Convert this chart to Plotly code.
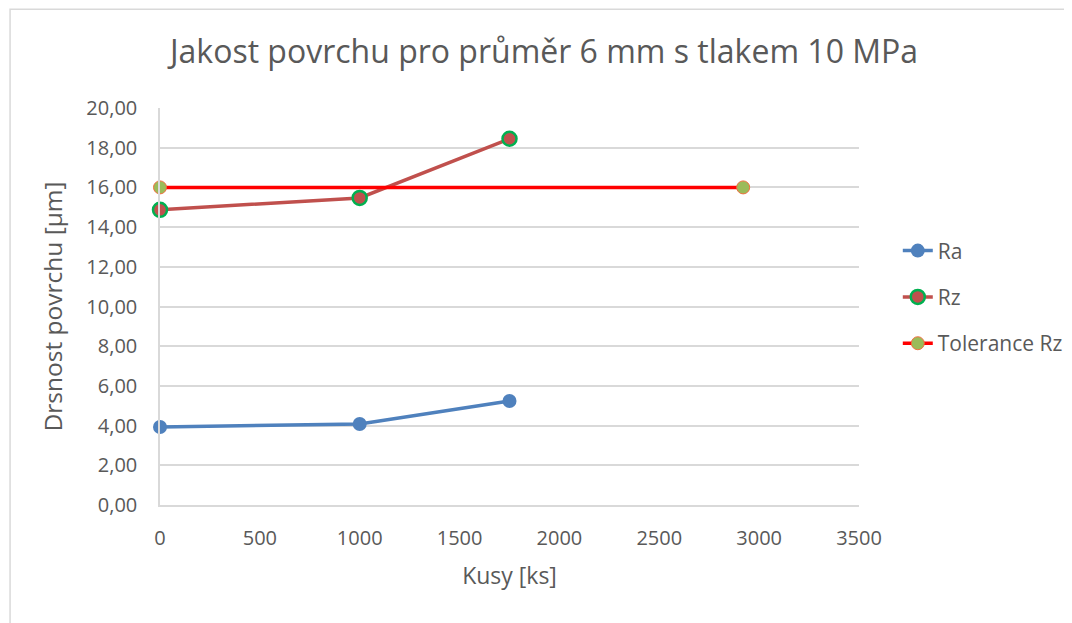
import plotly.graph_objects as go

x_ra = [0, 1000, 1750]
ra = [3.93, 4.08, 5.24]
x_rz = [0, 1000, 1750]
rz = [14.87, 15.47, 18.45]
x_tol = [0, 2920]
tol = [16.0, 16.0]
y_ticks = [0, 2, 4, 6, 8, 10, 12, 14, 16, 18, 20]
y_labels = [("%.2f" % v).replace(".", ",") for v in y_ticks]
x_ticks = [0, 500, 1000, 1500, 2000, 2500, 3000, 3500]

fig = go.Figure()
fig.add_trace(go.Scatter(x=x_ra, y=ra, name="Ra", mode="lines+markers", legendgroup="a",
                         cliponaxis=False,
                         line=dict(color="#4f81bd", width=3.5),
                         marker=dict(size=14, color="#4f81bd", line=dict(width=0))))
fig.add_trace(go.Scatter(x=x_rz, y=rz, name="Rz", mode="lines+markers", legendgroup="b",
                         cliponaxis=False,
                         line=dict(color="#c0504d", width=3.5),
                         marker=dict(size=14, color="#c0504d", line=dict(width=2.5, color="#00b050"))))
fig.add_trace(go.Scatter(x=x_tol, y=tol, name="Tolerance Rz", mode="lines+markers", legendgroup="c",
                         cliponaxis=False,
                         line=dict(color="#ff0000", width=3.5),
                         marker=dict(size=13, color="#9bbb59", line=dict(width=1, color="#f07040"))))

font = "Open Sans, Liberation Sans, sans-serif"
fig.update_layout(
    width=1072, height=623,
    paper_bgcolor="white", plot_bgcolor="white",
    margin=dict(l=152, r=218, t=100, b=126),
    title=dict(text="Jakost povrchu pro průměr 6 mm s tlakem 10 MPa",
               x=0.5, xanchor="center", y=0.93, yanchor="middle",
               font=dict(family=font, size=32, color="#595959")),
    font=dict(family=font, color="#595959"),
    xaxis=dict(range=[0, 3500], tickvals=x_ticks, showgrid=False, zeroline=False,
               showline=True, linecolor="#d9d9d9", linewidth=1.5,
               tickfont=dict(size=20, color="#595959"), ticklabelstandoff=14,
               title=dict(text="Kusy [ks]", font=dict(size=23, color="#595959"), standoff=18)),
    yaxis=dict(range=[0, 20], tickvals=y_ticks, ticktext=y_labels,
               showgrid=True, gridcolor="#d9d9d9", gridwidth=1.5, zeroline=False,
               showline=True, linecolor="#d9d9d9", linewidth=1.5,
               tickfont=dict(size=20, color="#595959"), ticklabelstandoff=17,
               title=dict(text="Drsnost povrchu [µm]", font=dict(size=24.5, color="#595959"), standoff=17)),
    legend=dict(x=1.0555, y=0.524, xanchor="left", yanchor="middle",
                font=dict(size=21, color="#595959"), tracegroupgap=16,
                traceorder="grouped"),
    showlegend=True,
    shapes=[dict(type="rect", xref="paper", yref="paper",
                 x0=-0.2145, x1=1.32, y0=-0.33, y1=1.249,
                 line=dict(color="#d9d9d9", width=1.5), fillcolor="rgba(0,0,0,0)", layer="below")],
)
fig.write_html("out.html")
